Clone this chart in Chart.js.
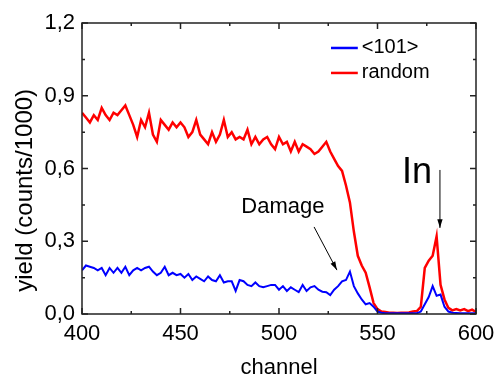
<!DOCTYPE html>
<html>
<head>
<meta charset="utf-8">
<script src="https://cdn.jsdelivr.net/npm/chart.js@4.4.0/dist/chart.umd.min.js"></script>
<style>
  html, body { margin: 0; padding: 0; background: #fff; }
  #wrap { width: 497px; height: 379px; }
</style>
</head>
<body>
<div id="wrap"><canvas id="rbs"></canvas></div>
<script>
var channels = [400,402,404,406,408,410,412,414,416,418,420,422,424,426,428,430,432,434,436,438,
  440,442,444,446,448,450,452,454,456,458,460,462,464,466,468,470,472,474,476,478,
  480,482,484,486,488,490,492,494,496,498,500,502,504,506,508,510,512,514,516,518,
  520,522,524,526,528,530,532,534,536,538,540,542,544,546,548,550,552,554,556,558,
  560,562,564,566,568,570,572,574,576,578,580,582,584,586,588,590,592,594,596,598,600];

var yield101 = [0.18,0.20,0.195,0.19,0.18,0.19,0.16,0.19,0.17,0.19,0.17,0.195,0.16,0.18,0.19,0.18,0.19,0.195,0.175,0.16,
  0.17,0.195,0.16,0.17,0.16,0.165,0.15,0.165,0.14,0.155,0.145,0.135,0.155,0.14,0.135,0.16,0.13,0.135,0.135,0.095,
  0.14,0.135,0.12,0.115,0.13,0.115,0.11,0.115,0.12,0.12,0.10,0.115,0.095,0.11,0.10,0.09,0.12,0.095,0.11,0.115,
  0.10,0.092,0.09,0.078,0.10,0.115,0.135,0.14,0.175,0.115,0.085,0.06,0.04,0.045,0.03,0.01,0.005,0.003,0.003,0.003,
  0.003,0.003,0.003,0.003,0.003,0.003,0.01,0.04,0.07,0.115,0.075,0.08,0.03,0.01,0.005,0.004,0.003,0.003,0.003,0.003,0.003];

var yieldRandom = [0.83,0.81,0.79,0.82,0.80,0.85,0.82,0.80,0.83,0.82,0.84,0.86,0.82,0.78,0.73,0.80,0.77,0.83,0.74,0.71,
  0.80,0.78,0.76,0.79,0.77,0.79,0.77,0.73,0.75,0.80,0.74,0.72,0.70,0.75,0.71,0.74,0.80,0.73,0.75,0.72,
  0.73,0.72,0.76,0.70,0.73,0.70,0.72,0.73,0.70,0.68,0.73,0.70,0.71,0.67,0.71,0.67,0.70,0.69,0.68,0.66,
  0.67,0.69,0.71,0.67,0.64,0.61,0.59,0.53,0.46,0.34,0.24,0.20,0.17,0.11,0.045,0.02,0.01,0.008,0.005,0.005,
  0.004,0.005,0.005,0.006,0.01,0.012,0.03,0.19,0.22,0.24,0.32,0.12,0.06,0.025,0.015,0.02,0.015,0.02,0.012,0.018,0.008];

var seriesNames = ['<101>', 'random'];
var seriesColors = ['#0000ff', '#ff0000'];
var xTicks = [400, 450, 500, 550, 600];
var yTicks = [0, 0.3, 0.6, 0.9, 1.2];

var FONT = '"Liberation Sans", Arial, sans-serif';

function pts(vals) {
  return channels.map(function (c, i) { return { x: c, y: vals[i] }; });
}

// frame, inward ticks, legend, y title and the two notes
var decorations = {
  id: 'decorations',
  afterDraw: function (chart) {
    var ctx = chart.ctx;
    var a = chart.chartArea;
    var sx = chart.scales.x;
    var sy = chart.scales.y;
    ctx.save();
    ctx.strokeStyle = '#222';
    ctx.lineWidth = 1.5;
    ctx.strokeRect(a.left, a.top, a.right - a.left, a.bottom - a.top);

    ctx.beginPath();
    for (var v = 400; v <= 600; v += 25) {
      var px = sx.getPixelForValue(v);
      var len = (v % 50 === 0) ? 6 : 3;
      ctx.moveTo(px, a.bottom); ctx.lineTo(px, a.bottom - len);
      ctx.moveTo(px, a.top); ctx.lineTo(px, a.top + len);
    }
    for (var k = 0; k <= 8; k++) {
      var py = sy.getPixelForValue(k * 0.15);
      var l2 = (k % 2 === 0) ? 6 : 3;
      ctx.moveTo(a.left, py); ctx.lineTo(a.left + l2, py);
      ctx.moveTo(a.right, py); ctx.lineTo(a.right - l2, py);
    }
    ctx.stroke();

    // y axis title, sits a bit below the middle in the original
    ctx.fillStyle = '#000';
    ctx.save();
    ctx.translate(25, sy.getPixelForValue(0.51));
    ctx.rotate(-Math.PI / 2);
    ctx.font = '24px ' + FONT;
    ctx.textAlign = 'center';
    ctx.textBaseline = 'middle';
    ctx.fillText('yield (counts/1000)', 0, 0);
    ctx.restore();

    // legend
    ctx.font = '20px ' + FONT;
    ctx.textBaseline = 'middle';
    ctx.textAlign = 'left';
    var legY = [1.097, 0.994];
    for (var s = 0; s < 2; s++) {
      var ly = sy.getPixelForValue(legY[s]);
      ctx.strokeStyle = seriesColors[s];
      ctx.lineWidth = 2.5;
      ctx.beginPath();
      ctx.moveTo(sx.getPixelForValue(526.4), ly);
      ctx.lineTo(sx.getPixelForValue(540), ly);
      ctx.stroke();
      ctx.fillText(seriesNames[s], sx.getPixelForValue(542), ly);
    }

    // notes
    ctx.strokeStyle = '#000';
    ctx.lineWidth = 1;
    ctx.textAlign = 'center';
    ctx.font = '22px ' + FONT;
    ctx.fillText('Damage', sx.getPixelForValue(502), sy.getPixelForValue(0.44));
    arrow(ctx, sx.getPixelForValue(517.8), sy.getPixelForValue(0.359),
               sx.getPixelForValue(529.4), sy.getPixelForValue(0.181));
    ctx.font = '36px ' + FONT;
    ctx.textBaseline = 'alphabetic';
    ctx.fillText('In', sx.getPixelForValue(570), sy.getPixelForValue(0.54));
    arrow(ctx, sx.getPixelForValue(581.7), sy.getPixelForValue(0.594),
               sx.getPixelForValue(581.7), sy.getPixelForValue(0.355));
    ctx.restore();
  }
};

function arrow(ctx, x1, y1, x2, y2) {
  var ang = Math.atan2(y2 - y1, x2 - x1);
  ctx.beginPath();
  ctx.moveTo(x1, y1);
  ctx.lineTo(x2, y2);
  ctx.stroke();
  ctx.beginPath();
  ctx.moveTo(x2, y2);
  ctx.lineTo(x2 - 9 * Math.cos(ang - 0.3), y2 - 9 * Math.sin(ang - 0.3));
  ctx.lineTo(x2 - 9 * Math.cos(ang + 0.3), y2 - 9 * Math.sin(ang + 0.3));
  ctx.closePath();
  ctx.fill();
}

new Chart(document.getElementById('rbs'), {
  type: 'line',
  data: {
    datasets: [{
      label: seriesNames[0],
      data: pts(yield101),
      borderColor: seriesColors[0],
      borderWidth: 2,
      pointRadius: 0,
      tension: 0
    }, {
      label: seriesNames[1],
      data: pts(yieldRandom),
      borderColor: seriesColors[1],
      borderWidth: 2.5,
      pointRadius: 0,
      tension: 0
    }]
  },
  options: {
    responsive: true,
    maintainAspectRatio: false,
    animation: false,
    layout: { padding: { top: 23, right: 21, left: 0, bottom: 0 } },
    plugins: { legend: { display: false }, tooltip: { enabled: false } },
    scales: {
      x: {
        type: 'linear',
        min: 400, max: 600,
        afterBuildTicks: function (s) { s.ticks = xTicks.map(function (v) { return { value: v }; }); },
        afterFit: function (s) { s.height = 65; s.paddingLeft = 0; s.paddingRight = 0; },
        grid: { display: false, drawTicks: false },
        border: { display: false },
        ticks: { color: '#000', padding: 7, font: { family: FONT, size: 22 } },
        title: { display: true, text: 'channel', color: '#000', padding: { top: 0, bottom: 0 },
                 font: { family: FONT, size: 22, lineHeight: 1 } }
      },
      y: {
        min: 0, max: 1.2,
        afterBuildTicks: function (s) { s.ticks = yTicks.map(function (v) { return { value: v }; }); },
        afterFit: function (s) { s.width = 82; },
        grid: { display: false, drawTicks: false },
        border: { display: false },
        ticks: {
          color: '#000', padding: 7, font: { family: FONT, size: 22 },
          callback: function (v) { return v.toFixed(1).replace('.', ','); }
        }
      }
    }
  },
  plugins: [decorations]
});
</script>
</body>
</html>
